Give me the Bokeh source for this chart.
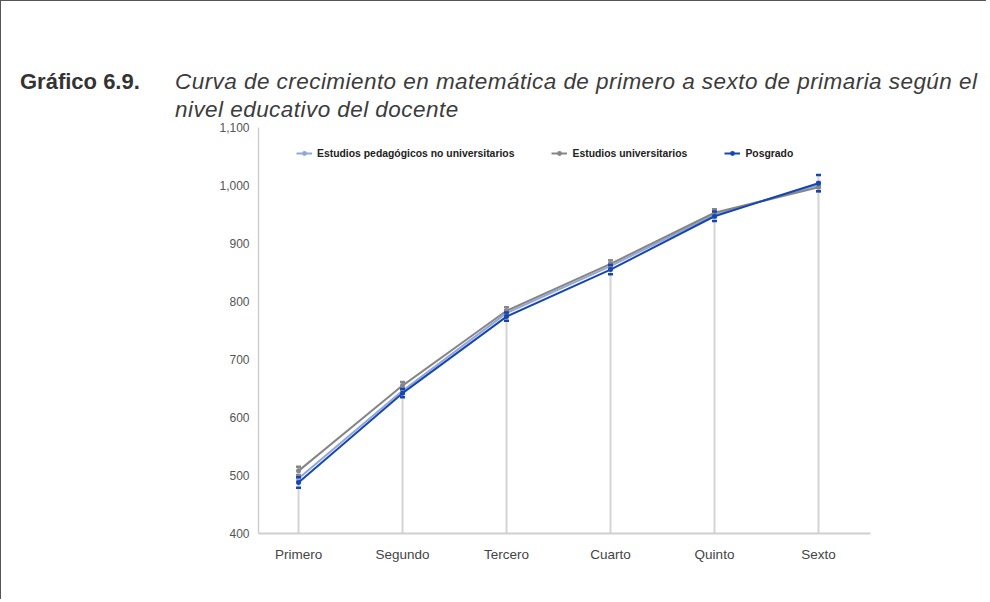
from bokeh.plotting import figure
from bokeh.models import (Range1d, FixedTicker, NumeralTickFormatter, Div,
                          Legend, LegendItem, ColumnDataSource)
from bokeh.layouts import column
from bokeh.embed import file_html
from bokeh.resources import INLINE

# ---------------- data ----------------
categories = ["Primero", "Segundo", "Tercero", "Cuarto", "Quinto", "Sexto"]
series_names = ["Estudios pedagógicos no universitarios", "Estudios universitarios", "Posgrado"]
pedagogicos = [495, 646, 780, 861, 950, 1001]
universitarios = [508, 655, 784, 865, 953, 997]
posgrado = [488, 642, 774, 855, 947, 1004]
err_pedagogicos = [5, 5, 5, 5, 5, 5]
err_universitarios = [7, 6, 6, 6, 6, 7]
err_posgrado = [9, 7, 7, 8, 8, 14]
y_ticks = [400, 500, 600, 700, 800, 900, 1000, 1100]

title_num = "Gráfico 6.9."
title_l1 = "Curva de crecimiento en matemática de primero a sexto de primaria según el"
title_l2 = "nivel educativo del docente"

colors = ["#93a6d9", "#868686", "#1547b3"]
FONT = "Liberation Sans"

xs = list(range(len(categories)))

W = 985
title_div = Div(
    text=(f'<div style="display:flex;font-family:\'{FONT}\';color:#333333;'
          f'padding:67px 0 0 19px;margin:0;">'
          f'<div style="width:155px;flex:none;font-weight:bold;font-size:22px;line-height:28px;">{title_num}</div>'
          f'<div style="flex:none;width:810px;font-style:italic;font-size:22.5px;letter-spacing:0.45px;'
          f'color:#3c3c3c;line-height:28px;white-space:nowrap;">{title_l1}<br>{title_l2}</div></div>'),
    width=W, height=118, margin=0)

p = figure(width=W, height=480, output_backend="svg", toolbar_location=None,
           x_range=Range1d(-0.385, 5.5), y_range=Range1d(400, 1100),
           min_border_left=257, min_border_right=116, min_border_top=8,
           min_border_bottom=66, outline_line_color=None,
           background_fill_color="white", border_fill_color="white", margin=0)
p.grid.visible = False

# axes
p.yaxis.ticker = FixedTicker(ticks=y_ticks)
p.yaxis.formatter = NumeralTickFormatter(format="0,0")
p.yaxis.axis_line_color = "#cfcfcf"
p.yaxis.axis_line_width = 1.5
p.yaxis.major_tick_line_color = None
p.yaxis.minor_tick_line_color = None
p.yaxis.major_label_text_font = FONT
p.yaxis.major_label_text_font_size = "12px"
p.yaxis.major_label_text_color = "#555555"
p.yaxis.major_label_standoff = 3

p.xaxis.ticker = FixedTicker(ticks=xs)
p.xaxis.major_label_overrides = {i: c for i, c in enumerate(categories)}
p.xaxis.axis_line_color = "#cfcfcf"
p.xaxis.axis_line_width = 2
p.xaxis.major_tick_line_color = None
p.xaxis.minor_tick_line_color = None
p.xaxis.major_label_text_font = FONT
p.xaxis.major_label_text_font_size = "13.5px"
p.xaxis.major_label_text_color = "#444444"
p.xaxis.major_label_standoff = 7

all_vals = [pedagogicos, universitarios, posgrado]
all_errs = [err_pedagogicos, err_universitarios, err_posgrado]

# vertical drop lines from the axis to the top of the highest interval
tops = [max(v[i] + e[i] for v, e in zip(all_vals, all_errs)) for i in xs]
p.segment(x0=xs, y0=[400] * len(xs), x1=xs, y1=tops, line_color="#d4d4d4", line_width=2)

items = []
for name, vals, errs, col in zip(series_names, all_vals, all_errs, colors):
    src = ColumnDataSource(dict(x=xs, y=vals,
                                lo=[v - e for v, e in zip(vals, errs)],
                                hi=[v + e for v, e in zip(vals, errs)]))
    ln = p.line("x", "y", source=src, line_color=col, line_width=2)
    p.rect("x", "lo", width=5, height=2.5, width_units="screen", height_units="screen",
           source=src, fill_color=col, line_color=None)
    p.rect("x", "hi", width=5, height=2.5, width_units="screen", height_units="screen",
           source=src, fill_color=col, line_color=None)
    mk = p.scatter("x", "y", source=src, size=5, fill_color=col, line_color=None)
    items.append(LegendItem(label=name, renderers=[ln, mk]))

legend = Legend(items=items, orientation="horizontal", location=(38, 374),
                label_text_font=FONT, label_text_font_style="bold",
                label_text_font_size="10.4px", label_text_color="#222222",
                glyph_width=16, glyph_height=12, label_height=12,
                label_standoff=5, spacing=37, padding=0, margin=0,
                border_line_color=None, background_fill_alpha=0)
p.add_layout(legend, "center")

layout = column(title_div, p, spacing=0,
                styles={"border-left": "1px solid #555", "border-top": "1px solid #555"})

open("out.html", "w").write(file_html(layout, INLINE))
